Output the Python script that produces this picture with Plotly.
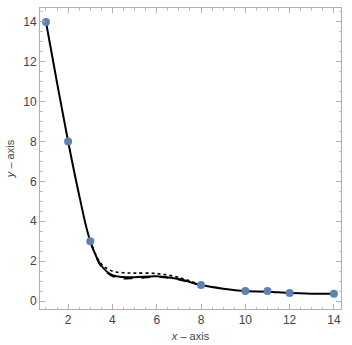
import plotly.graph_objects as go

# data points
pts_x = [1, 2, 3, 8, 10, 11, 12, 14]
pts_y = [14, 8, 3, 0.8, 0.5, 0.5, 0.4, 0.37]

solid_x = [1, 1.5, 2, 2.5, 3, 3.5, 4, 4.5, 5, 6, 7, 8, 9, 10, 11, 12, 13, 14]
solid_y = [14, 10.95, 8, 5.3, 3, 1.77, 1.3, 1.2, 1.19, 1.24, 1.1, 0.8, 0.62, 0.5, 0.47, 0.4, 0.37, 0.37]
dashed_x = [3, 3.5, 4, 4.5, 5, 6, 7, 8]
dashed_y = [3, 1.72, 1.25, 1.13, 1.14, 1.2, 1.08, 0.8]
dotted_x = [3, 3.5, 4, 4.5, 5, 6, 7, 8]
dotted_y = [3, 1.85, 1.5, 1.42, 1.4, 1.38, 1.18, 0.8]

fig = go.Figure()
fig.add_trace(go.Scatter(x=dotted_x, y=dotted_y, mode='lines', line_shape='spline',
                         line=dict(color='black', width=1.6, dash='dot')))
fig.add_trace(go.Scatter(x=dashed_x, y=dashed_y, mode='lines', line_shape='spline',
                         line=dict(color='black', width=1.8, dash='dash')))
fig.add_trace(go.Scatter(x=solid_x, y=solid_y, mode='lines', line_shape='spline',
                         line=dict(color='black', width=2)))
fig.add_trace(go.Scatter(x=pts_x, y=pts_y, mode='markers',
                         marker=dict(color='#5E81B5', size=8)))

axis_common = dict(showline=True, linecolor='#b0b0b0', linewidth=1, mirror='allticks',
                   ticks='inside', ticklen=5, tickcolor='#b0b0b0', showgrid=False,
                   zeroline=False, automargin=False,
                   tickfont=dict(family='Liberation Sans', size=12, color='#444'),
                   minor=dict(ticks='inside', ticklen=2.5, tickcolor='#c0c0c0'))

fig.update_layout(
    width=352, height=345,
    margin=dict(l=40, r=11, t=8, b=36),
    plot_bgcolor='white', paper_bgcolor='white',
    showlegend=False,
    xaxis=dict(range=[0.73, 14.32], dtick=2, tick0=0, **axis_common,
               title=dict(text='<i>x</i> – axis', standoff=5,
                          font=dict(family='Liberation Sans', size=11, color='#444'))),
    yaxis=dict(range=[-0.4, 14.7], dtick=2, tick0=0, **axis_common,
               title=dict(text='<i>y</i> – axis', standoff=6,
                          font=dict(family='Liberation Sans', size=11, color='#444'))),
)
fig.update_xaxes(minor=dict(dtick=0.5))
fig.update_yaxes(minor=dict(dtick=0.5))

# drop the page's default body margin so the figure fills the window
fig.write_html("out.html", config={'displayModeBar': False},
               post_script="document.body.style.margin='0px';")
